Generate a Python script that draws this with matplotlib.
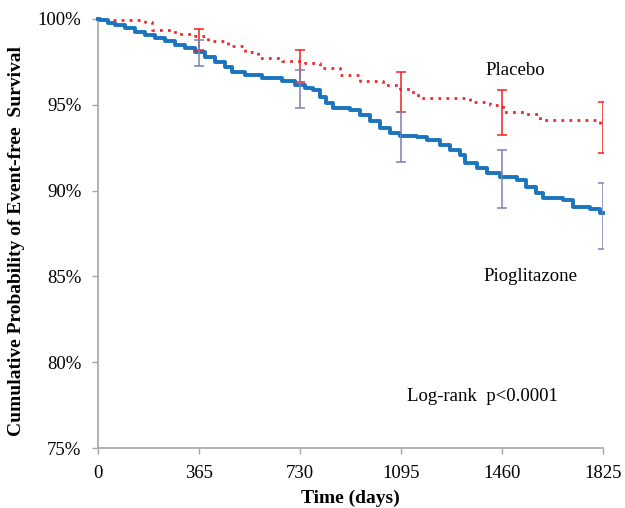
import matplotlib.pyplot as plt
from matplotlib.ticker import FuncFormatter

# Kaplan-Meier step data (days, survival %)
pio_days = [0, 6, 36, 60, 96, 133, 169, 205, 241, 277, 313, 350, 386, 422, 458, 482,
            530, 591, 663, 711, 747, 777, 801, 825, 849, 910, 946, 982, 1018, 1054,
            1090, 1151, 1187, 1235, 1271, 1307, 1325, 1368, 1404, 1452, 1512, 1548,
            1584, 1608, 1681, 1717, 1777, 1813, 1825]
pio_surv = [100, 99.94, 99.75, 99.65, 99.46, 99.26, 99.07, 98.88, 98.68, 98.48, 98.29,
            98.09, 97.80, 97.51, 97.22, 96.93, 96.74, 96.54, 96.40, 96.15, 95.96, 95.86,
            95.47, 95.09, 94.80, 94.70, 94.41, 94.02, 93.63, 93.34, 93.18, 93.14, 92.95,
            92.66, 92.37, 92.07, 91.59, 91.30, 91.01, 90.78, 90.62, 90.23, 89.84, 89.55,
            89.45, 89.03, 88.91, 88.68, 88.68]

pla_days = [0, 6, 169, 193, 277, 350, 398, 470, 530, 578, 663, 747, 801, 874, 946,
            1030, 1090, 1127, 1156, 1271, 1343, 1416, 1464, 1548, 1596, 1777, 1813, 1825]
pla_surv = [100, 99.94, 99.81, 99.36, 99.13, 98.97, 98.68, 98.39, 98.09, 97.71, 97.57,
            97.42, 97.13, 96.74, 96.35, 96.15, 95.90, 95.76, 95.38, 95.38, 95.18, 94.99,
            94.60, 94.46, 94.11, 94.11, 93.82, 93.82]

# confidence intervals at yearly time points
ci_days = [365, 730, 1095, 1460, 1825]
pla_lo = [98.2, 96.3, 94.6, 93.26, 92.19]
pla_hi = [99.42, 98.2, 96.9, 95.87, 95.16]
pio_lo = [97.27, 94.8, 91.67, 88.97, 86.6]
pio_hi = [98.78, 97.0, 94.58, 92.34, 90.45]

plt.rcParams['font.family'] = ['Liberation Serif', 'DejaVu Serif']

fig = plt.figure(figsize=(6.25, 5.08), dpi=100)
ax = fig.add_axes([0.157, 0.118, 0.808, 0.845])

ax.step(pla_days, pla_surv, where='post', color='#EE2A2A', lw=2.0,
        linestyle=(0, (1, 1.9)), clip_on=False, zorder=3)
ax.step(pio_days, pio_surv, where='post', color='#1B75BE', lw=2.8,
        clip_on=False, zorder=3)

def bars(lo, hi, color):
    mid = [(a + b) / 2 for a, b in zip(lo, hi)]
    err = [[m - a for m, a in zip(mid, lo)], [b - m for m, b in zip(mid, hi)]]
    ax.errorbar(ci_days, mid, yerr=err, fmt='none', ecolor=color, elinewidth=1.1,
                capsize=3.4, capthick=1.1, zorder=4)

bars(pla_lo, pla_hi, '#F02020')
bars(pio_lo, pio_hi, '#7F80B5')

ax.set_xlim(0, 1825)
ax.set_ylim(75, 100)
ax.set_xticks([0] + ci_days)
ax.set_yticks([75, 80, 85, 90, 95, 100])
ax.yaxis.set_major_formatter(FuncFormatter(lambda v, p: f'{v:.0f}%'))

for s in ['top', 'right']:
    ax.spines[s].set_visible(False)
for s in ['left', 'bottom']:
    ax.spines[s].set_color('#A6A6A6')
    ax.spines[s].set_linewidth(1.2)
ax.tick_params(axis='both', colors='#A6A6A6', labelcolor='black', labelsize=13.5,
               length=4, width=1.0, direction='out')
ax.tick_params(axis='x', pad=8)
ax.tick_params(axis='y', pad=8)

ax.set_xlabel('Time (days)', fontsize=14, fontweight='bold')
ax.set_ylabel('Cumulative Probability of Event-free  Survival', fontsize=14,
              fontweight='bold')
ax.xaxis.set_label_coords(0.5, -0.097)
ax.yaxis.set_label_coords(-0.145, 0.483)

ax.text(1506, 96.98, 'Placebo', fontsize=13.5, ha='center', va='center')
ax.text(1564, 85.0, 'Pioglitazone', fontsize=13.5, ha='center', va='center')
ax.text(1390, 78.0, 'Log-rank  p<0.0001', fontsize=13.5, ha='center', va='center')

fig.savefig('out.png', dpi=100)
